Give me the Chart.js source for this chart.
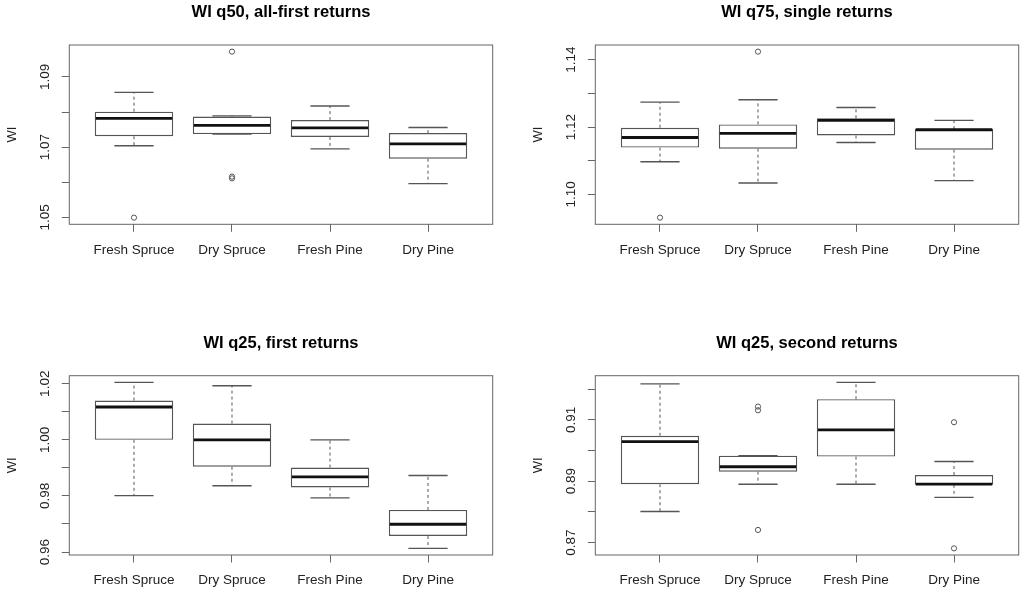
<!DOCTYPE html>
<html lang="en">
<head>
    <meta charset="UTF-8">
    <title>WI boxplots</title>
    <script src="https://cdn.jsdelivr.net/npm/chart.js"></script>
    <style>
        body {
            margin: 0;
            background: #fff;
        }

        .panel {
            position: absolute;
        }
    </style>
</head>
<body>

    <canvas id="p1" class="panel" width="512" height="297" style="left:0;top:0"></canvas>
    <canvas id="p2" class="panel" width="512" height="297" style="left:512px;top:0"></canvas>
    <canvas id="p3" class="panel" width="512" height="298" style="left:0;top:297px"></canvas>
    <canvas id="p4" class="panel" width="512" height="298" style="left:512px;top:297px"></canvas>

    <script>
        const categories = ['Fresh Spruce', 'Dry Spruce', 'Fresh Pine', 'Dry Pine'];

        // WI q50, all-first returns
        const q50Low = [1.0704, 1.0737, 1.0695, 1.0596];
        const q50Q1 = [1.0731, 1.0737, 1.0729, 1.0667];
        const q50Median = [1.0782, 1.0762, 1.0755, 1.0709];
        const q50Q3 = [1.0801, 1.0787, 1.0777, 1.0740];
        const q50High = [1.0856, 1.0789, 1.0817, 1.0756];
        const q50Outliers = [[1.0499], [1.0972, 1.0616, 1.0611], [], []];
        const q50Ticks = [1.05, 1.06, 1.07, 1.08, 1.09];
        const q50TickLabels = ['1.05', '', '1.07', '', '1.09'];

        // WI q75, single returns
        const q75Low = [1.1097, 1.1034, 1.1154, 1.1041];
        const q75Q1 = [1.1139, 1.1136, 1.1175, 1.1133];
        const q75Median = [1.1169, 1.1181, 1.1220, 1.1192];
        const q75Q3 = [1.1198, 1.1208, 1.1226, 1.1194];
        const q75High = [1.1274, 1.1281, 1.1258, 1.1220];
        const q75Outliers = [[1.0931], [1.1424], [], []];
        const q75Ticks = [1.10, 1.11, 1.12, 1.13, 1.14];
        const q75TickLabels = ['1.10', '', '1.12', '', '1.14'];

        // WI q25, first returns
        const firstLow = [0.9801, 0.9836, 0.9793, 0.9613];
        const firstQ1 = [1.0000, 0.9904, 0.9830, 0.9657];
        const firstMedian = [1.0117, 1.0000, 0.9868, 0.9699];
        const firstQ3 = [1.0140, 1.0058, 0.9901, 0.9750];
        const firstHigh = [1.0205, 1.0193, 1.0000, 0.9873];
        const firstOutliers = [[], [], [], []];
        const firstTicks = [0.96, 0.97, 0.98, 0.99, 1.00, 1.01, 1.02];
        const firstTickLabels = ['0.96', '', '0.98', '', '1.00', '', '1.02'];

        // WI q25, second returns
        const secondLow = [0.8801, 0.8890, 0.8890, 0.8847];
        const secondQ1 = [0.8890, 0.8931, 0.8980, 0.8888];
        const secondMedian = [0.9029, 0.8947, 0.9067, 0.8890];
        const secondQ3 = [0.9048, 0.8983, 0.9167, 0.8920];
        const secondHigh = [0.9217, 0.8983, 0.9222, 0.8964];
        const secondOutliers = [[], [0.9143, 0.9131, 0.8741], [], [0.9092, 0.8681]];
        const secondTicks = [0.87, 0.88, 0.89, 0.90, 0.91, 0.92];
        const secondTickLabels = ['0.87', '', '0.89', '', '0.91', ''];

        Chart.defaults.font.family = '"Liberation Sans", Arial, sans-serif';

        function makePanel(id, title, low, q1, median, q3, high, outliers, ticks, tickLabels, lay) {
            const all = low.concat(high, outliers.flat());
            const lo = Math.min(...all);
            const hi = Math.max(...all);
            const pad = (hi - lo) * 0.04;

            const outlierPoints = [];
            outliers.forEach((list, i) => list.forEach(v => outlierPoints.push({ x: i + 1, y: v })));

            // whiskers, staples, medians, frame and rotated y labels
            const boxPlugin = {
                id: 'wibox',
                afterDatasetsDraw(chart) {
                    const ctx = chart.ctx;
                    const xs = chart.scales.x;
                    const ys = chart.scales.y;
                    ctx.save();
                    categories.forEach((c, i) => {
                        const cx = xs.getPixelForValue(i + 1);
                        const half = xs.getPixelForValue(i + 1.4) - cx;
                        const cap = xs.getPixelForValue(i + 1.2) - cx;

                        ctx.strokeStyle = '#555';
                        ctx.lineWidth = 1;
                        ctx.setLineDash([3, 3]);
                        ctx.beginPath();
                        ctx.moveTo(cx, ys.getPixelForValue(q3[i]));
                        ctx.lineTo(cx, ys.getPixelForValue(high[i]));
                        ctx.moveTo(cx, ys.getPixelForValue(q1[i]));
                        ctx.lineTo(cx, ys.getPixelForValue(low[i]));
                        ctx.stroke();

                        ctx.setLineDash([]);
                        ctx.lineWidth = 1.4;
                        ctx.beginPath();
                        ctx.moveTo(cx - cap, ys.getPixelForValue(high[i]));
                        ctx.lineTo(cx + cap, ys.getPixelForValue(high[i]));
                        ctx.moveTo(cx - cap, ys.getPixelForValue(low[i]));
                        ctx.lineTo(cx + cap, ys.getPixelForValue(low[i]));
                        ctx.stroke();

                        ctx.strokeStyle = '#111';
                        ctx.lineWidth = 2.8;
                        ctx.beginPath();
                        ctx.moveTo(cx - half + 1, ys.getPixelForValue(median[i]));
                        ctx.lineTo(cx + half - 1, ys.getPixelForValue(median[i]));
                        ctx.stroke();
                    });

                    const a = chart.chartArea;
                    ctx.strokeStyle = '#666';
                    ctx.lineWidth = 1;
                    ctx.strokeRect(a.left, a.top, a.right - a.left, a.bottom - a.top);

                    ctx.fillStyle = '#222';
                    ctx.font = '13.5px "Liberation Sans", Arial, sans-serif';
                    ctx.textAlign = 'center';
                    ctx.textBaseline = 'middle';
                    ticks.forEach((v, i) => {
                        if (!tickLabels[i]) return;
                        ctx.save();
                        ctx.translate(a.left - 24.5, ys.getPixelForValue(v));
                        ctx.rotate(-Math.PI / 2);
                        ctx.fillText(tickLabels[i], 0, 0);
                        ctx.restore();
                    });
                    ctx.restore();
                }
            };

            return new Chart(document.getElementById(id), {
                type: 'bar',
                data: {
                    datasets: [{
                        type: 'bar',
                        data: categories.map((c, i) => ({ x: i + 1, y: [q1[i], q3[i]] })),
                        backgroundColor: '#fff',
                        borderColor: '#555',
                        borderWidth: 1.4,
                        borderSkipped: false,
                        barPercentage: 1,
                        categoryPercentage: 0.8
                    }, {
                        type: 'scatter',
                        data: outlierPoints,
                        pointStyle: 'circle',
                        pointRadius: 2.6,
                        pointBorderWidth: 1,
                        pointBorderColor: '#555',
                        pointBackgroundColor: 'rgba(0,0,0,0)',
                        showLine: false
                    }]
                },
                options: {
                    responsive: false,
                    animation: false,
                    events: [],
                    layout: {
                        padding: { left: 0, right: lay.right, top: 0, bottom: 0 }
                    },
                    plugins: {
                        legend: { display: false },
                        tooltip: { enabled: false },
                        title: {
                            display: true,
                            text: title,
                            fullSize: false,
                            color: '#000',
                            font: { size: 16.5, weight: 'bold' },
                            padding: { top: lay.titleTop, bottom: lay.titleBottom }
                        }
                    },
                    scales: {
                        x: {
                            type: 'linear',
                            min: 0.34,
                            max: 4.66,
                            offset: false,
                            afterBuildTicks: s => { s.ticks = categories.map((c, i) => ({ value: i + 1 })); },
                            afterFit: s => { s.height = lay.xHeight; },
                            ticks: {
                                callback: v => categories[Math.round(v) - 1],
                                autoSkip: false,
                                maxRotation: 0,
                                padding: 10,
                                color: '#222',
                                font: { size: 13.5 }
                            },
                            grid: { drawOnChartArea: false, tickLength: 7.5, color: '#666', offset: false },
                            border: { display: false }
                        },
                        y: {
                            type: 'linear',
                            min: lo - pad,
                            max: hi + pad,
                            beginAtZero: false,
                            afterBuildTicks: s => { s.ticks = ticks.map(v => ({ value: v })); },
                            afterFit: s => { s.width = lay.yWidth; },
                            ticks: { display: false },
                            grid: { drawOnChartArea: false, tickLength: 7.5, color: '#666' },
                            border: { display: false },
                            title: {
                                display: true,
                                text: 'WI',
                                color: '#222',
                                font: { size: 13 },
                                padding: { top: lay.yTitle, bottom: 0 }
                            }
                        }
                    }
                },
                plugins: [boxPlugin]
            });
        }

        const topLeft = { right: 19.3, yWidth: 69.3, xHeight: 72.7, titleTop: 2.1, titleBottom: 23.1, yTitle: 4.5 };
        const topRight = { right: 5.3, yWidth: 83.3, xHeight: 72.7, titleTop: 2.1, titleBottom: 23.1, yTitle: 18.4 };
        const bottomLeft = { right: 19.3, yWidth: 69.3, xHeight: 40, titleTop: 36.1, titleBottom: 22.8, yTitle: 4.5 };
        const bottomRight = { right: 5.3, yWidth: 83.3, xHeight: 40, titleTop: 36.1, titleBottom: 22.8, yTitle: 18.4 };

        makePanel('p1', 'WI q50, all-first returns', q50Low, q50Q1, q50Median, q50Q3, q50High, q50Outliers, q50Ticks, q50TickLabels, topLeft);
        makePanel('p2', 'WI q75, single returns', q75Low, q75Q1, q75Median, q75Q3, q75High, q75Outliers, q75Ticks, q75TickLabels, topRight);
        makePanel('p3', 'WI q25, first returns', firstLow, firstQ1, firstMedian, firstQ3, firstHigh, firstOutliers, firstTicks, firstTickLabels, bottomLeft);
        makePanel('p4', 'WI q25, second returns', secondLow, secondQ1, secondMedian, secondQ3, secondHigh, secondOutliers, secondTicks, secondTickLabels, bottomRight);
    </script>

</body>
</html>
